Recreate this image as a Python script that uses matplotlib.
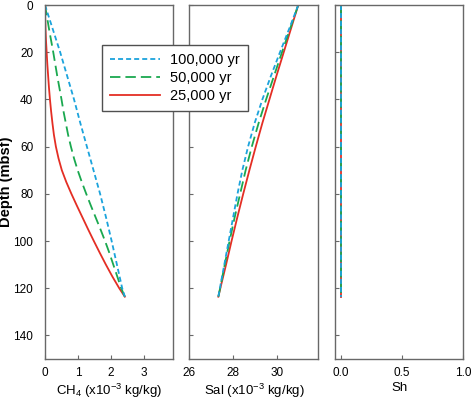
import matplotlib
matplotlib.use("Agg")
import matplotlib.pyplot as plt
import numpy as np

plt.rcParams['font.family'] = ['Liberation Sans', 'DejaVu Sans']
plt.rcParams['mathtext.fontset'] = 'custom'
plt.rcParams['mathtext.rm'] = 'Liberation Sans'
plt.rcParams['mathtext.it'] = 'Liberation Sans:italic'
plt.rcParams['lines.scale_dashes'] = False

labels = ['100,000 yr', '50,000 yr', '25,000 yr']
colors = ['#1ba3dc', '#1aa84f', '#e42e24']

# CH4 profiles (x10^-3 kg/kg) vs depth (mbsf)
ch4_depth = [0, 5, 10, 15, 20, 25, 30, 35, 40, 45, 50, 55, 60, 65, 70, 75,
             80, 85, 90, 95, 100, 105, 110, 115, 120, 123.6]
ch4_100k = [0.0, 0.115, 0.23, 0.345, 0.46, 0.565, 0.67, 0.775, 0.88, 0.975,
            1.07, 1.17, 1.27, 1.37, 1.47, 1.57, 1.67, 1.76, 1.85, 1.935,
            2.02, 2.10, 2.18, 2.26, 2.34, 2.42]
ch4_50k = [0.0, 0.06, 0.12, 0.185, 0.25, 0.31, 0.37, 0.435, 0.50, 0.56,
           0.63, 0.70, 0.785, 0.88, 0.99, 1.115, 1.25, 1.39, 1.535, 1.68,
           1.82, 1.95, 2.07, 2.19, 2.31, 2.42]
ch4_25k = [0.0, 0.005, 0.015, 0.03, 0.05, 0.07, 0.095, 0.12, 0.15, 0.185,
           0.225, 0.27, 0.33, 0.41, 0.51, 0.645, 0.80, 0.965, 1.135, 1.305,
           1.48, 1.66, 1.845, 2.04, 2.25, 2.42]

# Salinity profiles (x10^-3 kg/kg)
sal_depth = [0, 10, 20, 30, 40, 50, 60, 70, 80, 90, 100, 110, 120, 123.6]
sal_100k = [30.95, 30.54, 30.12, 29.71, 29.32, 28.97, 28.67, 28.41, 28.19,
            27.99, 27.79, 27.59, 27.39, 27.32]
sal_50k = [30.95, 30.58, 30.21, 29.85, 29.49, 29.15, 28.84, 28.56, 28.31,
           28.06, 27.83, 27.61, 27.40, 27.32]
sal_25k = [30.95, 30.62, 30.29, 29.96, 29.64, 29.32, 29.02, 28.73, 28.45,
           28.18, 27.92, 27.67, 27.41, 27.32]

# Hydrate saturation
sh_depth = [0, 123.6]
sh_100k = [0.0, 0.0]
sh_50k = [0.0, 0.0]
sh_25k = [0.0, 0.0]

depth_ticks = [0, 20, 40, 60, 80, 100, 120, 140]

W, H = 473, 401
fig = plt.figure(figsize=(W / 100, H / 100), dpi=100)

def rect(x0, x1, ytop=5, ybot=359):
    return [x0 / W, 1 - ybot / H, (x1 - x0) / W, (ybot - ytop) / H]

ax1 = fig.add_axes(rect(45, 173))
ax2 = fig.add_axes(rect(189.3, 318.3))
ax3 = fig.add_axes(rect(335, 463.3))

styles = [dict(ls=(0, (3.6, 2.2))), dict(ls=(0, (7.5, 3.6))), dict(ls='-')]
spine_c = '#686868'

ch4 = [ch4_100k, ch4_50k, ch4_25k]
sal = [sal_100k, sal_50k, sal_25k]
sh = [sh_100k, sh_50k, sh_25k]

handles = []
for i in [2, 1, 0]:
    h, = ax1.plot(ch4[i], ch4_depth, color=colors[i], lw=1.3, **styles[i])
    ax2.plot(sal[i], sal_depth, color=colors[i], lw=1.3, **styles[i])
    ax3.plot(sh[i], sh_depth, color=colors[i], lw=1.3, **styles[i])
    handles.append(h)
handles = handles[::-1]

for ax in (ax1, ax2, ax3):
    ax.set_ylim(150, 0)
    ax.set_yticks(depth_ticks)
    for s in ax.spines.values():
        s.set_color(spine_c)
        s.set_linewidth(1.0)
    ax.tick_params(direction='in', length=3, width=0.8, color=spine_c,
                   labelsize=8.5, top=False, right=False)
    ax.tick_params(axis='x', pad=6)
    ax.tick_params(axis='y', pad=8.5)

ax1.set_xlim(0, 3.88)
ax1.set_xticks([0, 1, 2, 3])
ax2.set_xlim(26, 31.86)
ax2.set_xticks([26, 28, 30])
ax3.set_xlim(-0.046, 1.0)
ax3.set_xticks([0.0, 0.5, 1.0])
ax3.set_xticklabels(['0.0', '0.5', '1.0'])
ax2.set_yticklabels([])
ax3.set_yticklabels([])

ax1.set_ylabel('Depth (mbsf)', fontsize=10.5, fontweight='bold', labelpad=0)
ax1.set_xlabel(r'CH$_4$ (x10$^{-3}$ kg/kg)', fontsize=9.5, labelpad=2)
ax2.set_xlabel(r'Sal (x10$^{-3}$ kg/kg)', fontsize=9.5, labelpad=2)
ax3.set_xlabel('Sh', fontsize=9.5, labelpad=2)

leg = fig.legend(handles, labels, loc='upper left',
                 bbox_to_anchor=(102 / W, 1 - 45 / H), borderaxespad=0,
                 fontsize=10.5, handlelength=3.4, handletextpad=0.7,
                 labelspacing=0.28, borderpad=0.55, fancybox=False,
                 framealpha=1, edgecolor='#505050')
leg.get_frame().set_linewidth(1.0)
leg.set_zorder(10)

fig.savefig('out.png', dpi=100)
